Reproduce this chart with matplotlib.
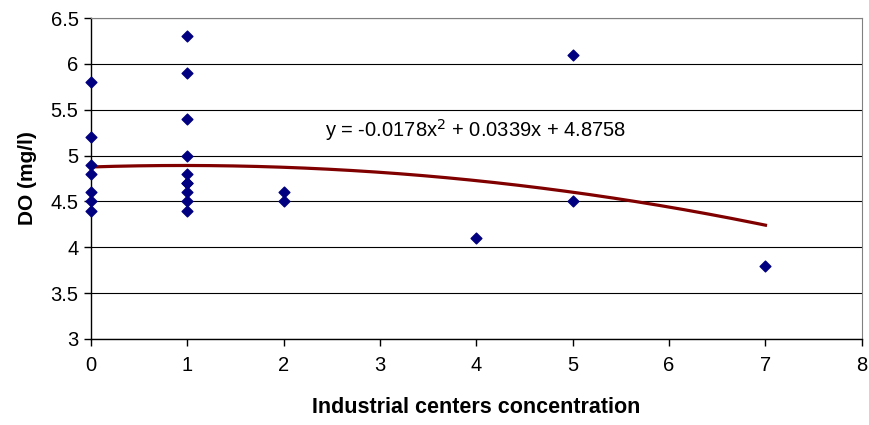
import numpy as np
import matplotlib.pyplot as plt

plt.rcParams['font.family'] = ['Liberation Sans', 'DejaVu Sans']

# observed points: industrial centers concentration vs dissolved oxygen
centers = [0, 0, 0, 0, 0, 0, 0,
           1, 1, 1, 1, 1, 1, 1, 1, 1, 1,
           2, 2, 4, 5, 5, 7]
do_mgl = [5.8, 5.2, 4.9, 4.8, 4.6, 4.5, 4.4,
          6.3, 5.9, 5.4, 5.0, 4.8, 4.7, 4.7, 4.6, 4.5, 4.4,
          4.6, 4.5, 4.1, 6.1, 4.5, 3.8]

# polynomial trendline coefficients as printed on the chart
trend_coef = [-0.0178, 0.0339, 4.8758]
trend_range = (0, 7)

#-----------------------------------------------------------------------------------------#

fig = plt.figure(figsize=(8.7, 4.25), dpi=100)
ax = fig.add_axes([0.1046, 0.2024, 0.886, 0.7552])

xs = np.linspace(trend_range[0], trend_range[1], 200)
ax.plot(xs, np.polyval(trend_coef, xs), color='#800000', lw=2.3, zorder=2)
ax.scatter(centers, do_mgl, marker='D', s=30, color='#000080', zorder=3, clip_on=False)

ax.set_xlim(0, 8)
ax.set_ylim(3, 6.5)
ax.set_xticks(range(0, 9))
ax.set_yticks(np.arange(3, 6.51, 0.5))
ax.set_yticklabels(['3', '3.5', '4', '4.5', '5', '5.5', '6', '6.5'])
ax.grid(axis='y', color='black', lw=0.8)
ax.set_axisbelow(True)

for side in ['top', 'right']:
    ax.spines[side].set_color('#808080')
    ax.spines[side].set_linewidth(0.8)
for side in ['left', 'bottom']:
    ax.spines[side].set_linewidth(1.0)
ax.tick_params(axis='both', direction='out', length=5, width=1.0, labelsize=14.5, pad=4)
ax.tick_params(axis='x', pad=7)

a, b, c = trend_coef
ax.text(2.43, 5.28, f'y = {a}x$^2$ + {b}x + {c}', fontsize=14.5, va='center', ha='left')

ax.set_xlabel('Industrial centers concentration', fontsize=15.5, fontweight='bold', labelpad=16)
ax.set_ylabel('DO (mg/l)', fontsize=15, fontweight='bold', labelpad=10)

plt.savefig('out.png', dpi=100)
